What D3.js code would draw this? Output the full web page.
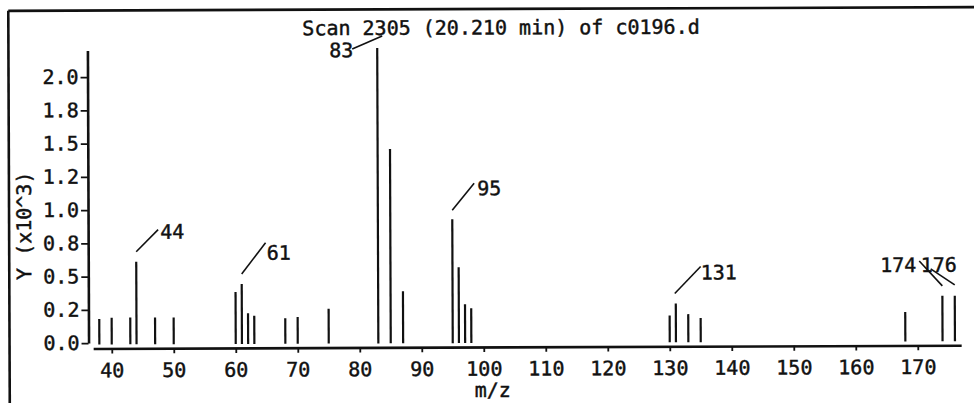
<!DOCTYPE html>
<html>
<head>
<meta charset="utf-8">
<script src="https://cdn.jsdelivr.net/npm/d3@7"></script>
<style>
  html, body { margin: 0; padding: 0; background: #fff; }
  svg { display: block; }
  text { font-family: "DejaVu Sans Mono", "Liberation Mono", monospace; font-size: 20px;
         fill: #111; stroke: #111; stroke-width: 0.45px; }
</style>
</head>
<body>
<svg id="chart" width="974" height="403"></svg>
<script>
// Mass spectrum, scan 2305
const title = "Scan 2305 (20.210 min) of c0196.d";
const xLabel = "m/z";
const yLabel = "Y (x10^3)";

const mz = [38, 40, 43, 44, 47, 50, 60, 61, 62, 63, 68, 70, 75, 83, 85, 87,
            95, 96, 97, 98, 130, 131, 133, 135, 168, 174, 176];
const abundance = [0.18, 0.19, 0.19, 0.61, 0.19, 0.19, 0.38, 0.44, 0.22, 0.20, 0.18, 0.19, 0.25, 2.21, 1.45, 0.38,
                   0.92, 0.56, 0.28, 0.25, 0.19, 0.28, 0.20, 0.17, 0.21, 0.33, 0.33];
const labeledPeaks = [44, 61, 83, 95, 131, 174, 176];

const xTicks = [40, 50, 60, 70, 80, 90, 100, 110, 120, 130, 140, 150, 160, 170];
const yTickValues = [0, 0.25, 0.5, 0.75, 1.0, 1.25, 1.5, 1.75, 2.0];
const yTickLabels = ["0.0", "0.2", "0.5", "0.8", "1.0", "1.2", "1.5", "1.8", "2.0"];

const peaks = mz.map((m, i) => ({ mz: m, value: abundance[i] }));

const svg = d3.select("#chart");
svg.append("rect").attr("width", 974).attr("height", 403).attr("fill", "#fff");

// whole sheet sits very slightly tilted
const sheet = svg.append("g").attr("transform", "rotate(-0.22 487 200)");

// frame edges
sheet.append("line").attr("x1", 9).attr("y1", 9).attr("x2", 1000).attr("y2", 9)
  .attr("stroke", "#111").attr("stroke-width", 2.6);
sheet.append("line").attr("x1", 9).attr("y1", 9).attr("x2", 9).attr("y2", 430)
  .attr("stroke", "#111").attr("stroke-width", 2.6);

const x = d3.scaleLinear().domain([37, 177]).range([92.6, 960.6]);
const y = d3.scaleLinear().domain([0, 2.2]).range([341.5, 48.9]);

// y axis
const yAxis = sheet.append("g")
  .attr("transform", "translate(88,0)")
  .call(d3.axisLeft(y).tickValues(yTickValues)
    .tickFormat((d, i) => yTickLabels[i])
    .tickSize(7).tickSizeOuter(0).tickPadding(2));
yAxis.select(".domain").attr("stroke", "#111").attr("stroke-width", 2.6);
yAxis.selectAll(".tick line").attr("stroke", "#111").attr("stroke-width", 1.8);

// x axis, drawn a few pixels below the zero line
const xAxis = sheet.append("g")
  .attr("transform", "translate(0,347)")
  .call(d3.axisBottom(x).tickValues(xTicks).tickFormat(d3.format("d"))
    .tickSize(5).tickSizeOuter(0).tickPadding(9.5));
xAxis.select(".domain").attr("stroke", "#111").attr("stroke-width", 2.6);
xAxis.selectAll(".tick line").attr("stroke", "#111").attr("stroke-width", 1.8);

// spectrum sticks
sheet.append("g").selectAll("line").data(peaks).join("line")
  .attr("x1", d => x(d.mz)).attr("x2", d => x(d.mz))
  .attr("y1", y(0) + 1.5).attr("y2", d => y(d.value))
  .attr("stroke", "#111").attr("stroke-width", 2.2);

// peak annotations: leader offsets from the stick top, then text offset and anchor
const leader = {
  44:  { line: [0, -10, 22, -32],  text: [24, -23],  anchor: "start" },
  61:  { line: [0, -10, 24, -41],  text: [25, -24],  anchor: "start" },
  83:  { line: [5, -12, -25, 1],   text: [-24, 9],   anchor: "end" },
  95:  { line: [0, -9, 22, -36],   text: [25, -24],  anchor: "start" },
  131: { line: [-1, -10, 25, -37], text: [25, -24],  anchor: "start" },
  174: { line: [0, -10, -23, -35], text: [-26, -24], anchor: "end" },
  176: { line: [0, -11, -24, -27], text: [-34, -24], anchor: "start" }
};

const ann = sheet.append("g").selectAll("g")
  .data(peaks.filter(p => labeledPeaks.includes(p.mz)))
  .join("g")
  .attr("transform", d => `translate(${x(d.mz)},${y(d.value)})`);

ann.append("line")
  .attr("x1", d => leader[d.mz].line[0]).attr("y1", d => leader[d.mz].line[1])
  .attr("x2", d => leader[d.mz].line[2]).attr("y2", d => leader[d.mz].line[3])
  .attr("stroke", "#111").attr("stroke-width", 1.6);

ann.append("text")
  .attr("x", d => leader[d.mz].text[0]).attr("y", d => leader[d.mz].text[1])
  .attr("text-anchor", d => leader[d.mz].anchor)
  .text(d => d.mz);

// title and axis titles
sheet.append("text").attr("x", 303).attr("y", 34.5).text(title);

sheet.append("text")
  .attr("transform", "translate(31,224) rotate(-90)")
  .attr("text-anchor", "middle")
  .text(yLabel);

sheet.append("text")
  .attr("x", 492).attr("y", 397)
  .attr("text-anchor", "middle")
  .text(xLabel);
</script>
</body>
</html>
